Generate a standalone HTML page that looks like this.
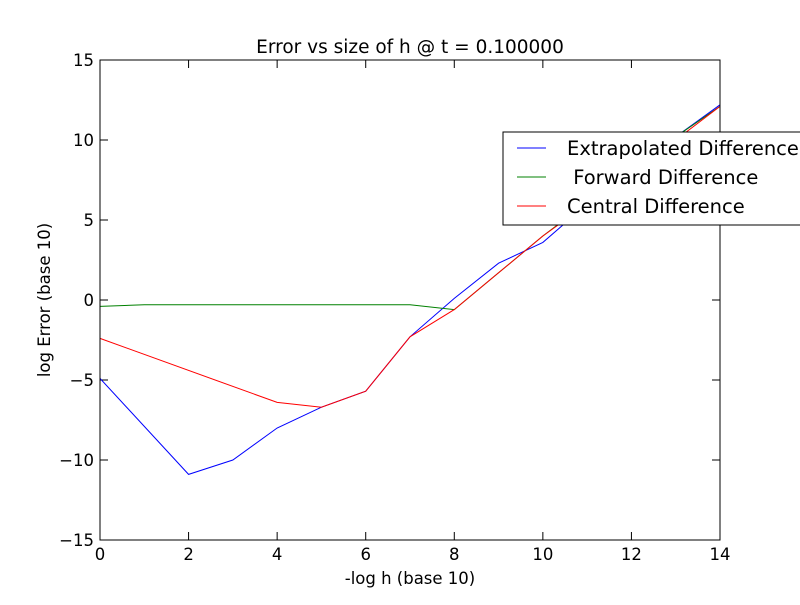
<!DOCTYPE html>
<html><head><meta charset="utf-8"><style>
body{margin:0;background:#fff;overflow:hidden}
svg{font-family:"DejaVu Sans","Liberation Sans",sans-serif}
</style></head><body>
<svg id="chart" width="800" height="600">
<rect x="0" y="0" width="800" height="600" fill="#fff"/>
<text x="410" y="53" font-size="18.5" text-anchor="middle">Error vs size of h @ t = 0.100000</text>
<g id="ticks"></g>
<g id="series"></g>
<rect x="100" y="60" width="620" height="480" fill="none" stroke="#000"/>
<text x="410" y="584" font-size="16.5" text-anchor="middle">-log h (base 10)</text>
<text x="50" y="300" font-size="16.5" text-anchor="middle" transform="rotate(-90 50 300)">log Error (base 10)</text>
<g>
<rect x="503" y="132" width="310" height="93" fill="#fff" stroke="#000"/>
<line x1="517" y1="148" x2="546" y2="148" stroke="#0000ff"/>
<text x="567" y="155" font-size="19.5">Extrapolated Difference</text>
<line x1="517" y1="177" x2="546" y2="177" stroke="#008000"/>
<text x="567" y="184" font-size="19.5" xml:space="preserve"> Forward Difference</text>
<line x1="517" y1="206" x2="546" y2="206" stroke="#ff0000"/>
<text x="567" y="213" font-size="19.5">Central Difference</text>
</g>
</svg>
<script>
const xTicks=[0,2,4,6,8,10,12,14];
const yTicks=[-15,-10,-5,0,5,10,15];
const extrapX=[0,2,3,4,5,6,7,8,9,10,11,12,13,14];
const extrapY=[-4.9,-10.9,-10,-8,-6.7,-5.7,-2.3,0.1,2.3,3.6,6,8,10.2,12.2];
const forwardX=[0,1,2,3,4,5,6,7,8,9,10,11,12,13,14];
const forwardY=[-0.4,-0.3,-0.3,-0.3,-0.3,-0.3,-0.3,-0.3,-0.6,1.7,4,6.1,8,10.2,12.1];
const centralX=[0,4,5,6,7,8,9,10,11,12,13,14];
const centralY=[-2.4,-6.4,-6.7,-5.7,-2.3,-0.6,1.7,4,6,8,10,12.1];
const NS='http://www.w3.org/2000/svg';
function sx(v){return 100+v/14*620;}
function sy(v){return 300-v*16;}
const tg=document.getElementById('ticks');
function mk(t,a,p){const e=document.createElementNS(NS,t);for(const k in a)e.setAttribute(k,a[k]);p.appendChild(e);return e;}
xTicks.forEach(v=>{
  const x=sx(v);
  const t1=mk('line',{x1:x,x2:x,y1:540,y2:532,stroke:'#000'},tg);
  
  
  const t2=mk('line',{x1:x,x2:x,y1:60,y2:68,stroke:'#000'},tg);
  
  
  const l=mk('text',{x:x,y:560,'font-size':16.5,'text-anchor':'middle'},tg);
  l.textContent=v;
  
  
});
yTicks.forEach(v=>{
  const y=sy(v);
  const t1=mk('line',{x1:100,x2:108,y1:y,y2:y,stroke:'#000'},tg);
  
  
  const t2=mk('line',{x1:720,x2:712,y1:y,y2:y,stroke:'#000'},tg);
  
  
  const l=mk('text',{x:94,y:y+6,'font-size':16.5,'text-anchor':'end'},tg);
  l.textContent=(v<0?'\u2212'+(-v):v);
  
  
});
const sg=document.getElementById('series');
function line(xs,ys,c,name){
  const p=mk('polyline',{points:xs.map((x,i)=>sx(x)+','+sy(ys[i])).join(' '),fill:'none',stroke:c,'stroke-width':1},sg);
  
  
}
line(extrapX,extrapY,'#0000ff','extrapolated-difference-line');
line(forwardX,forwardY,'#008000','forward-difference-line');
line(centralX,centralY,'#ff0000','central-difference-line');
</script>
</body></html>
